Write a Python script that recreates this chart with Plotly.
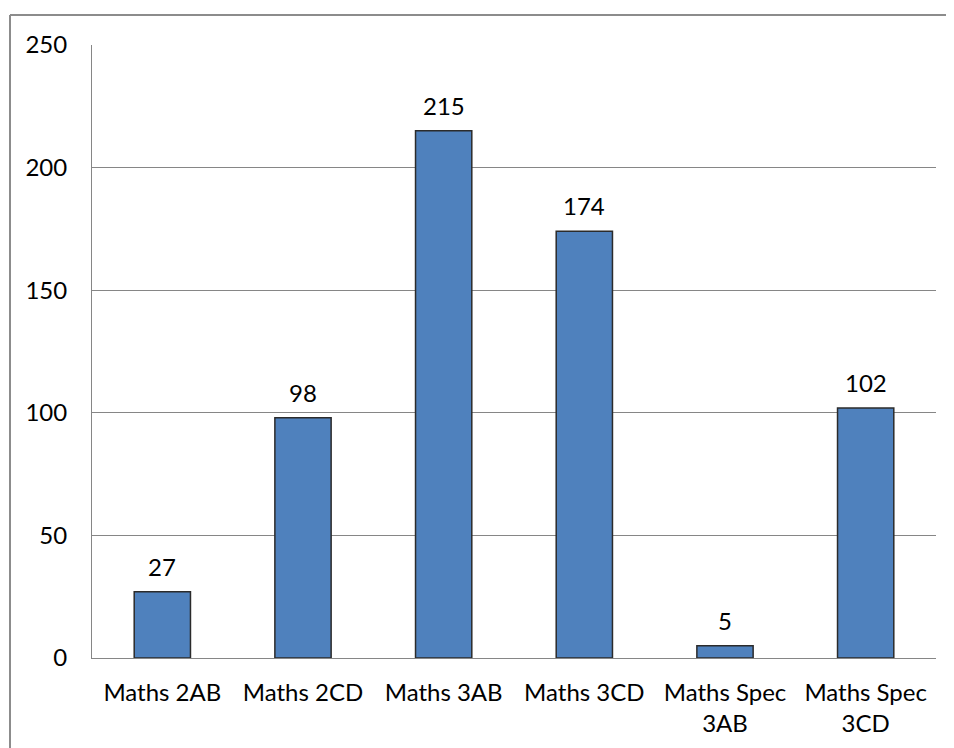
import plotly.graph_objects as go

categories = ["Maths 2AB", "Maths 2CD", "Maths 3AB", "Maths 3CD", "Maths Spec<br>3AB", "Maths Spec<br>3CD"]
values = [27, 98, 215, 174, 5, 102]
y_ticks = [0, 50, 100, 150, 200, 250]

FONT = "Lato"
FS = 24
fig = go.Figure()
fig.add_trace(go.Bar(
    x=categories, y=values,
    marker=dict(color="#4F81BD", line=dict(color="#2B2B2B", width=1.5)),
    width=0.4,
))
for c, v in zip(categories, values):
    fig.add_annotation(x=c, y=v, text=str(v), showarrow=False, yanchor="bottom",
                       yshift=9, font=dict(family=FONT, size=FS, color="#000000"))

# page body has an 8px margin, so the figure is laid out 8px smaller
W, H = 946, 740
L, R, T, B = 84, 18, 37, 90
pw, ph = W - L - R, H - T - B
def px(xp): return (xp - L) / pw
def py(yp): return (H - B - yp) / ph
fig.add_shape(type="line", xref="paper", yref="paper", x0=px(2), x1=px(960), y0=py(7), y1=py(7),
              line=dict(color="#8C8C8C", width=2))
fig.add_shape(type="line", xref="paper", yref="paper", x0=px(2), x1=px(2), y0=py(7), y1=py(760),
              line=dict(color="#8C8C8C", width=2))

fig.update_layout(
    width=W, height=H,
    margin=dict(l=L, r=R, t=T, b=B),
    paper_bgcolor="white", plot_bgcolor="white",
    showlegend=False,
    font=dict(family=FONT, size=FS, color="#000000"),
    bargap=0.6,
)
fig.update_xaxes(showline=True, linecolor="#868686", linewidth=1, showgrid=False,
                 ticks="", ticklabelstandoff=13, tickfont=dict(family=FONT, size=FS))
fig.update_yaxes(range=[0, 250], tickvals=y_ticks, showline=True, linecolor="#868686", linewidth=1,
                 showgrid=True, gridcolor="#868686", gridwidth=1, zeroline=False,
                 ticks="", ticklabelstandoff=19, tickfont=dict(family=FONT, size=FS))
fig.write_html("out.html")
